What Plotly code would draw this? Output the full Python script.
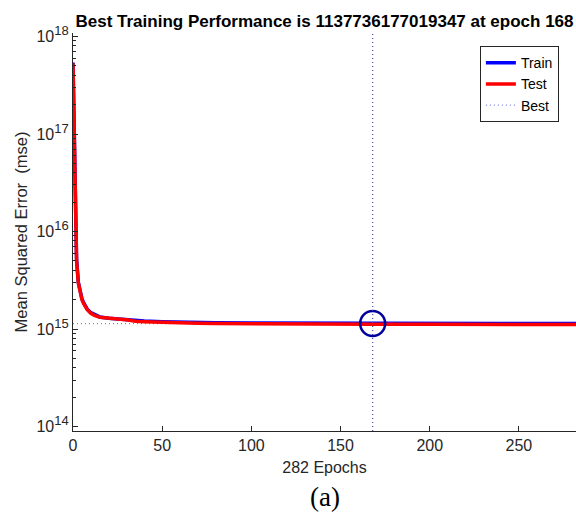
import plotly.graph_objects as go

# ---- data ----
epochs = [0, 1, 2, 3, 4, 5, 6, 8, 10, 12, 15, 20, 25, 30, 35, 40, 50, 60, 70, 80,
          100, 120, 140, 168, 200, 240, 282]
train_mse = [5.4e17, 3.0e16, 5.2e15, 3.0e15, 2.35e15, 2.05e15, 1.85e15, 1.6e15, 1.47e15,
             1.40e15, 1.33e15, 1.29e15, 1.27e15, 1.25e15, 1.22e15, 1.21e15, 1.19e15,
             1.175e15, 1.165e15, 1.158e15, 1.15e15, 1.145e15, 1.141e15, 1.137736177019347e15,
             1.1382e15, 1.1385e15, 1.1386e15]
test_mse = [5.3e17, 2.9e16, 5.0e15, 2.95e15, 2.3e15, 2.0e15, 1.82e15, 1.58e15, 1.45e15,
            1.38e15, 1.32e15, 1.28e15, 1.265e15, 1.245e15, 1.20e15, 1.19e15, 1.17e15,
            1.155e15, 1.145e15, 1.138e15, 1.13e15, 1.125e15, 1.121e15, 1.118e15,
            1.116e15, 1.115e15, 1.115e15]
best_epoch = 168
best_perf = 1137736177019347
n_epochs = 282

x_ticks = [0, 50, 100, 150, 200, 250]
y_decades = [14, 15, 16, 17, 18]

ink = "#262626"
font_family = "Liberation Sans, Arial, sans-serif"

fig = go.Figure()

# horizontal best line (drawn beneath the curves)
fig.add_trace(go.Scatter(
    x=[0, n_epochs], y=[best_perf, best_perf], mode="lines", name="Best",
    line=dict(color="#8080e0", width=1.2, dash="1px,3px"), legendrank=3, hoverinfo="skip"))
fig.add_trace(go.Scatter(
    x=epochs, y=train_mse, mode="lines", name="Train",
    line=dict(color="#0000ff", width=3.5), legendrank=1))
fig.add_trace(go.Scatter(
    x=epochs, y=test_mse, mode="lines", name="Test",
    line=dict(color="#ff0000", width=3.5), legendrank=2))
# best-epoch circle
fig.add_trace(go.Scatter(
    x=[best_epoch], y=[best_perf], mode="markers", showlegend=False,
    marker=dict(symbol="circle-open", size=25, color="#00009a", line=dict(width=2.5))))

# vertical best line
fig.add_shape(type="line", xref="x", yref="paper", x0=best_epoch, x1=best_epoch,
              y0=0, y1=1, line=dict(color="#4848b0", width=1.2, dash="1px,3px"))

minor_vals = [k * 10 ** d for d in y_decades[:-1] for k in range(2, 10)]

fig.update_layout(
    width=576, height=515,
    margin=dict(l=73, r=0, t=33, b=84),
    paper_bgcolor="white", plot_bgcolor="white",
    font=dict(family=font_family, size=16, color=ink),
    title=dict(text="<b>Best Training Performance is %d at epoch %d</b>" % (best_perf, best_epoch),
               x=0.5, xref="paper", xanchor="center",
               y=1 - 21 / 515, yref="container", yanchor="middle",
               font=dict(size=17, color="black", family=font_family)),
    legend=dict(x=0.966, y=0.967, xanchor="right", yanchor="top",
                bgcolor="white", bordercolor=ink, borderwidth=1,
                font=dict(size=14, color="black"), tracegroupgap=0),
    xaxis=dict(range=[0, n_epochs], tickvals=x_ticks, ticks="inside", ticklen=5,
               tickcolor=ink, showline=True, linecolor=ink, linewidth=1.3,
               showgrid=False, zeroline=False,
               title=dict(text="282 Epochs", standoff=8, font=dict(size=16, color=ink)),
               tickfont=dict(size=16, color=ink)),
    yaxis=dict(type="log", range=[13.954, 18.036],
               tickvals=[10 ** d for d in y_decades],
               ticktext=["10<sup><span style='font-size:13px'>%d</span></sup>" % d
                         for d in y_decades],
               ticks="inside", ticklen=5, tickcolor=ink,
               showline=True, linecolor=ink, linewidth=1.3,
               showgrid=False, zeroline=False,
               minor=dict(tickvals=minor_vals, ticks="inside", ticklen=3,
                          tickcolor=ink, showgrid=False),
               title=dict(text="Mean Squared Error  (mse)", standoff=4,
                          font=dict(size=16.5, color=ink)),
               tickfont=dict(size=16, color=ink)),
    annotations=[dict(text="(a)", xref="paper", yref="paper", x=0.5,
                      y=-(497 - 431) / 398, xanchor="center", yanchor="middle",
                      showarrow=False,
                      font=dict(family="Liberation Serif, Times New Roman, serif",
                                size=27, color="black"))],
)

fig.write_html("out.html")
